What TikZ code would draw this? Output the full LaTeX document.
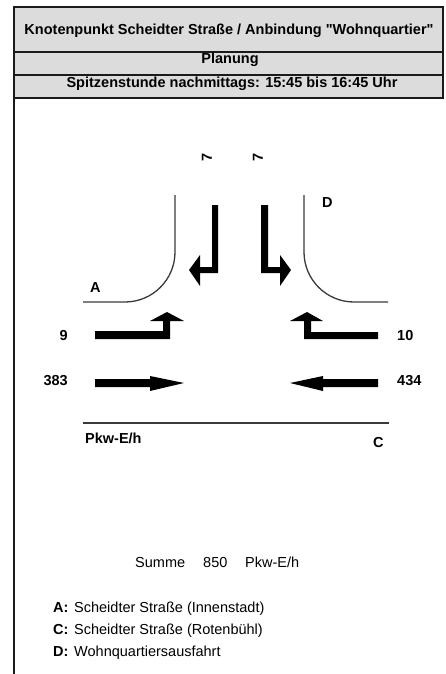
\documentclass[tikz,border=0pt]{standalone}
\usepackage{fontspec}
\setmainfont{Liberation Sans}[Ligatures=TeXOff]
\definecolor{hdrfill}{HTML}{DCDCDC}
\definecolor{hdrline}{HTML}{1A1A1A}
\definecolor{roadc}{HTML}{3A3A3A}
\begin{document}
\begin{tikzpicture}[x=1pt,y=-1pt,
  lbl/.style={font=\fontsize{14.5}{17}\selectfont\bfseries, inner sep=0pt},
  txt/.style={font=\fontsize{14.5}{17}\selectfont, inner sep=0pt},
  road/.style={draw=roadc, line width=1.3pt},
  arr/.style={fill=black, draw=none},
  hdr/.style={fill=hdrfill, draw=hdrline, line width=1.6pt}]
\useasboundingbox (0,0) rectangle (445,674);
% header
\path[hdr] (14,7) rectangle (443,52);
\path[hdr] (14,52) rectangle (443,75);
\path[hdr] (14,75) rectangle (443,98);
\draw[hdrline, line width=2.2pt] (14,7) -- (14,674);
\node[lbl, anchor=base] (title) at (229,34.5) {Knotenpunkt Scheidter Straße / Anbindung "Wohnquartier"};
\node[lbl, anchor=base] (plan) at (230,63.5) {Planung};
\node[lbl, anchor=base] (spitz) at (232,87.5) {Spitzenstunde nachmittags: 15:45 bis 16:45 Uhr};
% roads
\draw[road] (175,195) -- (175,252) .. controls (175,279.6) and (152.6,302) .. (125,302) -- (83,302);
\draw[road] (304,195) -- (304,252) .. controls (304,279.6) and (326.4,302) .. (354,302) -- (388,302);
\draw[road] (83,423) -- (389,423);
% arrows from A
\path[arr] (95,331) -- (163,331) -- (163,321) -- (150,321) -- (167,312) -- (184,321) -- (170,321) -- (170,339) -- (95,339) -- cycle;
\path[arr] (95,379) -- (150,379) -- (150,376) -- (184,383) -- (150,391) -- (150,387) -- (95,387) -- cycle;
% arrows from C
\path[arr] (378,332) -- (311,332) -- (311,321) -- (323,321) -- (307,312) -- (290,321) -- (304,321) -- (304,339) -- (378,339) -- cycle;
\path[arr] (378,379) -- (323,379) -- (323,376) -- (290,383) -- (323,391) -- (323,387) -- (378,387) -- cycle;
% arrows from D
\path[arr] (212,205) -- (218,205) -- (218,273) -- (200,273) -- (200,286) -- (189,270) -- (200,255) -- (200,267) -- (212,267) -- cycle;
\path[arr] (261,205) -- (268,205) -- (268,267) -- (280,267) -- (280,255) -- (291,270) -- (280,286) -- (280,273) -- (261,273) -- cycle;
% labels
\node[lbl, rotate=90] (dl) at (207,157) {7};
\node[lbl, rotate=90] (dr) at (258,157) {7};
\node[lbl, anchor=base west] (A) at (90,292) {A};
\node[lbl, anchor=base west] (D) at (322,207) {D};
\node[lbl, anchor=base west] (C) at (373,447) {C};
\node[lbl, anchor=base west] (unit) at (85,443) {Pkw-E/h};
\node[lbl, anchor=base east] (aL) at (68,340) {9};
\node[lbl, anchor=base east] (aT) at (68,385.5) {383};
\node[lbl, anchor=base west] (cR) at (397,340) {10};
\node[lbl, anchor=base west] (cT) at (397,385.5) {434};
% sum
\node[txt, anchor=base west] (sum) at (135,567) {Summe};
\node[txt, anchor=base west] (sumv) at (203,567) {850};
\node[txt, anchor=base west] (sumu) at (245,567) {Pkw-E/h};
% legend
\node[lbl, anchor=base west] (lA) at (53,612) {A:};
\node[txt, anchor=base west] (tA) at (74,612) {Scheidter Straße (Innenstadt)};
\node[lbl, anchor=base west] (lC) at (53,634) {C:};
\node[txt, anchor=base west] (tC) at (74,634) {Scheidter Straße (Rotenbühl)};
\node[lbl, anchor=base west] (lD) at (53,656) {D:};
\node[txt, anchor=base west] (tD) at (74,656) {Wohnquartiersausfahrt};
\end{tikzpicture}
\end{document}
